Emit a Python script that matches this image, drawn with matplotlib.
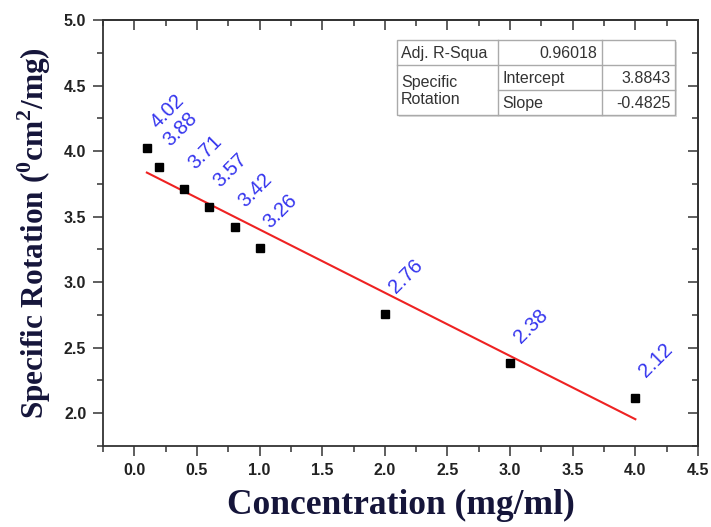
import matplotlib
matplotlib.use("Agg")
import matplotlib.pyplot as plt
from matplotlib.ticker import MultipleLocator, FormatStrFormatter
from matplotlib.patches import Rectangle
from matplotlib.lines import Line2D

# data
conc = [0.1, 0.2, 0.4, 0.6, 0.8, 1.0, 2.0, 3.0, 4.0]
rotation = [4.02, 3.88, 3.71, 3.57, 3.42, 3.26, 2.76, 2.38, 2.12]
point_labels = ["4.02", "3.88", "3.71", "3.57", "3.42", "3.26", "2.76", "2.38", "2.12"]

fit_intercept = 3.8843
fit_slope = -0.4825
adj_r2 = "0.96018"
fit_x = [0.1, 4.0]

plt.rcParams['mathtext.fontset'] = 'custom'
plt.rcParams['mathtext.rm'] = 'Liberation Serif:bold'
plt.rcParams['mathtext.bf'] = 'Liberation Serif:bold'

fig = plt.figure(figsize=(7.11, 5.27), dpi=100)
ax = fig.add_axes([0.1449, 0.1537, 0.8368, 0.8083])

axis_col = "#333333"
label_col = "#15153a"

ax.plot(conc, rotation, 's', color='black', markersize=6, zorder=3)
fit_y = [fit_intercept + fit_slope * x for x in fit_x]
ax.plot(fit_x, fit_y, color='#ee2222', lw=1.5, zorder=2)

for x, y, t in zip(conc, rotation, point_labels):
    ax.annotate(t, (x, y), xytext=(10, 12), textcoords='offset points',
                rotation=45, rotation_mode='anchor', ha='left', va='bottom',
                color='#3535ee', fontsize=14.5, family='Liberation Sans')

ax.set_xlim(-0.25, 4.5)
ax.set_ylim(1.75, 5.0)
ax.set_xticks([0, 0.5, 1, 1.5, 2, 2.5, 3, 3.5, 4, 4.5])
ax.set_yticks([2.0, 2.5, 3.0, 3.5, 4.0, 4.5, 5.0])
ax.xaxis.set_minor_locator(MultipleLocator(0.25))
ax.yaxis.set_minor_locator(MultipleLocator(0.25))
ax.xaxis.set_major_formatter(FormatStrFormatter('%.1f'))
ax.yaxis.set_major_formatter(FormatStrFormatter('%.1f'))

for s in ax.spines.values():
    s.set_color(axis_col)
    s.set_linewidth(1.3)

ax.tick_params(which='both', direction='out', color=axis_col, width=1.1,
               top=False, right=False)
ax.tick_params(which='major', length=7, labelsize=11.5, labelcolor='#222222', pad=5)
ax.tick_params(which='minor', length=4)
for lab in ax.get_xticklabels() + ax.get_yticklabels():
    lab.set_fontweight('bold')
    lab.set_family('Liberation Sans')

# mirrored inward ticks on top and right
secx = ax.secondary_xaxis('top')
secx.set_xticks(ax.get_xticks())
secx.xaxis.set_minor_locator(MultipleLocator(0.25))
secx.tick_params(which='both', direction='in', color=axis_col, width=1.1, labeltop=False)
secx.tick_params(which='major', length=7)
secx.tick_params(which='minor', length=4)
secx.spines['top'].set_linewidth(1.3)
secx.spines['top'].set_color(axis_col)
secy = ax.secondary_yaxis('right')
secy.set_yticks(ax.get_yticks())
secy.yaxis.set_minor_locator(MultipleLocator(0.25))
secy.tick_params(which='both', direction='in', color=axis_col, width=1.1, labelright=False)
secy.tick_params(which='major', length=7)
secy.tick_params(which='minor', length=4)
secy.spines['right'].set_linewidth(1.3)
secy.spines['right'].set_color(axis_col)

ax.set_xlabel("Concentration (mg/ml)", fontsize=25.5, fontweight='bold',
              family='Liberation Serif', color=label_col, labelpad=8)
ax.set_ylabel(r"Specific Rotation ($^{0}$cm$^{2}$/mg)", fontsize=22.5, fontweight='bold',
              family='Liberation Serif', color=label_col, labelpad=8)

# fit results table (figure pixel positions)
W, H = 711.0, 527.0
def fx(px):
    return px / W
def fy(py):
    return 1 - py / H

x0, x1, x2, x3 = 397, 498, 602, 675
y0, y1, y2, y3 = 40, 65, 90, 115
tcol = "#aaaaaa"
fig.patches.append(Rectangle((fx(x0) + 0.003, fy(y3) - 0.004), fx(x3) - fx(x0), fy(y0) - fy(y3),
                             transform=fig.transFigure, facecolor='#dddddd', edgecolor='none', zorder=4))
fig.patches.append(Rectangle((fx(x0), fy(y3)), fx(x3) - fx(x0), fy(y0) - fy(y3),
                             transform=fig.transFigure, facecolor='white', edgecolor=tcol, lw=1, zorder=5))
segs = [((x0, y1), (x3, y1)), ((x1, y2), (x3, y2)), ((x1, y0), (x1, y3)), ((x2, y0), (x2, y3))]
for (a, b), (c, d) in segs:
    fig.lines.append(Line2D([fx(a), fx(c)], [fy(b), fy(d)], transform=fig.transFigure,
                            color=tcol, lw=1, zorder=6))

tkw = dict(fontsize=11.5, color='#333333', family='Liberation Sans', zorder=7)
fig.text(fx(x0 + 4), fy((y0 + y1) / 2 + 1), "Adj. R-Squa", va='center', ha='left', **tkw)
fig.text(fx(x2 - 5), fy((y0 + y1) / 2 + 1), adj_r2, va='center', ha='right', **tkw)
fig.text(fx(x0 + 4), fy((y1 + y3) / 2 + 1), "Specific\nRotation", va='center', ha='left',
         linespacing=1.15, **tkw)
fig.text(fx(x1 + 4), fy((y1 + y2) / 2 + 1), "Intercept", va='center', ha='left', **tkw)
fig.text(fx(x3 - 4), fy((y1 + y2) / 2 + 1), f"{fit_intercept:.4f}", va='center', ha='right', **tkw)
fig.text(fx(x1 + 4), fy((y2 + y3) / 2 + 1), "Slope", va='center', ha='left', **tkw)
fig.text(fx(x3 - 4), fy((y2 + y3) / 2 + 1), f"{fit_slope:.4f}", va='center', ha='right', **tkw)

fig.savefig("out.png", dpi=100)
